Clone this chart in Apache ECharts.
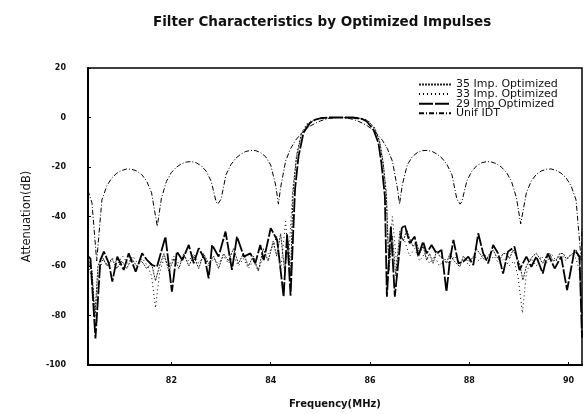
<!DOCTYPE html>
<html>
<head>
<meta charset="utf-8">
<script src="https://cdn.jsdelivr.net/npm/echarts@6/dist/echarts.min.js"></script>
<style>html,body{margin:0;padding:0;background:#fff}#c{width:585px;height:414px}</style>
</head>
<body>
<div id="c"></div>
<script>
var titleText = "Filter Characteristics by Optimized Impulses";
var xTicks = [82, 84, 86, 88, 90];
var yTicks = [20, 0, -20, -40, -60, -80, -100];
var seriesNames = ["35 Imp. Optimized", "33 Imp. Optimized", "29 Imp Optimized", "Unif IDT"];

var unifFreq = [80.32, 80.4, 80.495, 80.6, 80.7, 80.8, 80.9, 81.0, 81.1, 81.2, 81.3, 81.4, 81.5, 81.6, 81.715, 81.8, 81.9, 82.0, 82.1, 82.2, 82.3, 82.4, 82.5, 82.6, 82.7, 82.8, 82.9, 82.935, 83.0, 83.1, 83.2, 83.3, 83.4, 83.5, 83.6, 83.7, 83.8, 83.9, 84.0, 84.1, 84.155, 84.2, 84.3, 84.4, 84.5, 84.6, 84.7, 84.8, 84.9, 85.0, 85.1, 85.2, 85.3, 85.375, 85.45, 85.55, 85.65, 85.75, 85.85, 85.95, 86.05, 86.15, 86.25, 86.35, 86.45, 86.55, 86.595, 86.65, 86.75, 86.85, 86.95, 87.05, 87.15, 87.25, 87.35, 87.45, 87.55, 87.65, 87.75, 87.815, 87.85, 87.95, 88.05, 88.15, 88.25, 88.35, 88.45, 88.55, 88.65, 88.75, 88.85, 88.95, 89.035, 89.15, 89.25, 89.35, 89.45, 89.55, 89.65, 89.75, 89.85, 89.95, 90.05, 90.15, 90.255, 90.27];
var unifDb = [-29.5, -34.5, -58, -33.3, -27.6, -24.4, -22.5, -21.4, -20.8, -20.9, -21.6, -23.0, -25.6, -30.4, -44, -32.5, -25.8, -22.2, -20.1, -18.7, -18.0, -17.8, -18.3, -19.5, -21.7, -25.7, -34, -35, -33, -23.1, -19.0, -16.4, -14.8, -13.7, -13.3, -13.4, -14.2, -15.9, -19.2, -27.3, -35, -28.3, -17.6, -12.6, -9.2, -6.8, -4.9, -3.4, -2.3, -1.4, -0.7, -0.3, -0.05, 0, -0.05, -0.3, -0.7, -1.4, -2.3, -3.4, -4.9, -6.8, -9.2, -12.6, -17.6, -28.3, -35, -27.3, -19.2, -15.9, -14.2, -13.4, -13.3, -13.7, -14.8, -16.4, -19.0, -23.1, -33, -35, -34, -25.7, -21.7, -19.5, -18.3, -17.8, -18.0, -18.7, -20.1, -22.2, -25.8, -32.5, -43, -30.4, -25.6, -23.0, -21.6, -20.9, -20.8, -21.4, -22.5, -24.4, -27.6, -33.3, -58, -45];

var imp29Freq = [80.32, 80.37, 80.47, 80.57, 80.64, 80.74, 80.81, 80.91, 81.04, 81.14, 81.28, 81.41, 81.51, 81.61, 81.71, 81.88, 82.01, 82.11, 82.22, 82.35, 82.45, 82.55, 82.68, 82.75, 82.82, 82.95, 83.09, 83.22, 83.32, 83.46, 83.59, 83.69, 83.79, 83.86, 84.0, 84.13, 84.26, 84.33, 84.4, 84.49, 84.56, 84.66, 84.79, 84.9, 85.0, 85.15, 85.4, 85.65, 85.75, 85.85, 85.93, 86.07, 86.17, 86.23, 86.3, 86.34, 86.42, 86.5, 86.64, 86.7, 86.8, 86.9, 86.97, 87.07, 87.14, 87.24, 87.34, 87.44, 87.54, 87.61, 87.68, 87.78, 87.88, 87.98, 88.08, 88.18, 88.28, 88.38, 88.48, 88.58, 88.68, 88.78, 88.91, 89.01, 89.15, 89.25, 89.35, 89.48, 89.58, 89.72, 89.85, 89.97, 90.12, 90.22, 90.27];
var imp29Db = [-56, -57, -89.3, -57.6, -54.2, -58.9, -66.3, -56.2, -61.6, -54.9, -62.3, -54.9, -57.6, -59.6, -60.3, -48.1, -70.4, -54.2, -57.6, -51.5, -58.9, -52.8, -57.6, -65.0, -51.5, -56.2, -46.1, -61.6, -48.1, -56.2, -54.9, -58.9, -51.5, -57.6, -44.7, -49.5, -72.4, -47, -72, -29, -15.7, -6.2, -2.2, -0.9, -0.3, 0, 0, 0, -0.3, -0.7, -1.5, -4.9, -10.3, -18.4, -31.9, -72.4, -44, -72.4, -44.7, -43.4, -50.8, -48.1, -56.2, -50.1, -54.9, -51.5, -54.9, -53.5, -70.4, -57.6, -49.5, -58.9, -58.2, -56.2, -59.6, -46.8, -54.9, -58.9, -51.5, -54.9, -63, -54.2, -52.2, -61.6, -56.2, -60.3, -56.2, -63, -54.9, -61, -56.2, -69.7, -53.5, -56.2, -89];

var imp35Freq = [80.32, 80.4, 80.46, 80.52, 80.6, 80.7, 80.8, 80.9, 81.0, 81.1, 81.2, 81.3, 81.4, 81.5, 81.6, 81.68, 81.76, 81.85, 81.95, 82.05, 82.15, 82.25, 82.35, 82.45, 82.55, 82.65, 82.75, 82.85, 82.95, 83.05, 83.15, 83.25, 83.35, 83.45, 83.55, 83.65, 83.75, 83.85, 83.95, 84.05, 84.12, 84.2, 84.28, 84.35, 84.4, 84.45, 84.52, 84.62, 84.75, 84.9, 85.05, 85.4, 85.8, 85.95, 86.1, 86.2, 86.27, 86.33, 86.38, 86.45, 86.52, 86.6, 86.67, 86.74, 86.8, 86.87, 86.93, 87.0, 87.07, 87.14, 87.2, 87.27, 87.34, 87.41, 87.48, 87.54, 87.61, 87.68, 87.74, 87.81, 87.88, 87.94, 88.01, 88.08, 88.14, 88.21, 88.28, 88.34, 88.41, 88.48, 88.54, 88.61, 88.68, 88.75, 88.81, 88.88, 88.95, 89.01, 89.08, 89.15, 89.22, 89.28, 89.35, 89.42, 89.48, 89.55, 89.62, 89.68, 89.75, 89.82, 89.89, 89.95, 90.02, 90.08, 90.15, 90.22, 90.27];
var imp35Db = [-57, -62, -80, -60, -56, -60, -57, -61, -58, -61, -57, -60, -58, -61, -59, -66, -60, -55, -62, -57, -61, -55, -60, -56, -61, -55, -59, -56, -61, -55, -58, -53, -59, -55, -60, -56, -62, -53, -58, -50, -56, -47, -62, -50, -64, -30, -16, -6.5, -2.5, -0.8, -0.2, 0, -0.3, -1.2, -4.5, -10, -19, -32, -62, -48, -64, -46, -50, -45.4, -49, -52.2, -50, -54.9, -52, -57.6, -55, -58.9, -54, -56.2, -57, -58.9, -55, -57.6, -59, -60.3, -56, -57.6, -58, -56.2, -53, -54.9, -57, -57.6, -55, -53.5, -56, -57.6, -55, -54.9, -57, -53.5, -56, -58.9, -65.7, -60, -57.6, -56, -54.9, -57, -58.9, -56, -54.9, -58, -57.6, -55, -54.9, -57, -56.2, -55, -53.5, -57.6, -80];

var imp33Freq = [80.32, 80.4, 80.46, 80.53, 80.62, 80.72, 80.82, 80.92, 81.02, 81.12, 81.22, 81.32, 81.42, 81.52, 81.6, 81.68, 81.76, 81.85, 81.95, 82.05, 82.15, 82.25, 82.35, 82.45, 82.55, 82.65, 82.75, 82.85, 82.95, 83.05, 83.15, 83.25, 83.35, 83.45, 83.55, 83.65, 83.75, 83.85, 83.95, 84.05, 84.12, 84.2, 84.3, 84.36, 84.44, 84.52, 84.62, 84.75, 84.9, 85.05, 85.4, 85.8, 85.95, 86.08, 86.18, 86.26, 86.33, 86.38, 86.45, 86.55, 86.62, 86.7, 86.8, 86.9, 87.0, 87.1, 87.2, 87.3, 87.4, 87.5, 87.6, 87.7, 87.8, 87.9, 88.0, 88.1, 88.2, 88.3, 88.4, 88.5, 88.6, 88.7, 88.8, 88.9, 88.98, 89.07, 89.15, 89.25, 89.35, 89.45, 89.55, 89.65, 89.75, 89.85, 89.95, 90.05, 90.15, 90.22, 90.27];
var imp33Db = [-58, -66, -82, -64, -57, -60, -57, -59, -56, -59, -56, -59, -57, -60, -64, -77, -63, -57, -60, -56, -59, -56, -58, -55, -59, -56, -60, -57, -59, -56, -59, -56, -60, -57, -61, -58, -62, -56, -55, -52, -48, -62, -42, -58, -30, -15, -6, -2, -0.6, -0.1, 0, -0.2, -1.0, -3.8, -9, -18, -30, -58, -40, -62, -48, -50, -56, -53, -58, -55, -59, -56, -60, -57, -59, -56, -59, -57, -60, -56, -58, -55, -58, -56, -59, -57, -60, -58, -64, -79, -63, -57, -60, -56, -59, -55, -58, -55, -58, -55, -57, -62, -80];

function pairs(xs, ys) {
  var n = Math.min(xs.length, ys.length), out = [];
  for (var i = 0; i < n; i++) out.push([xs[i], ys[i]]);
  return out;
}

var font = "'DejaVu Sans', 'Liberation Sans', sans-serif";
var chart = echarts.init(document.getElementById('c'), null, {renderer: 'canvas'});
chart.setOption({
  backgroundColor: '#fff',
  animation: false,
  title: {
    text: titleText, left: 148, top: 10,
    textStyle: {fontFamily: font, fontSize: 13.5, fontWeight: 'bold', color: '#111'}
  },
  legend: {
    data: seriesNames, orient: 'vertical', left: 413, top: 74,
    itemWidth: 32, itemHeight: 8, itemGap: -1.4,
    itemStyle: {opacity: 0},
    textStyle: {fontFamily: font, fontSize: 11, color: '#111'}
  },
  grid: {left: 88, right: 3, top: 68, bottom: 49, show: true, borderColor: '#000', borderWidth: 1.5, backgroundColor: 'transparent'},
  xAxis: {
    type: 'value', min: 80.32, max: 90.27,
    name: 'Frequency(MHz)', nameLocation: 'middle', nameGap: 34,
    nameTextStyle: {fontFamily: font, fontSize: 10, fontWeight: 'bold', color: '#111'},
    axisLine: {onZero: false, lineStyle: {color: '#000', width: 2}},
    axisTick: {inside: true, length: 3, customValues: xTicks, lineStyle: {color: '#000'}},
    axisLabel: {customValues: xTicks, margin: 12, fontFamily: font, fontSize: 8, fontWeight: 'bold', color: '#111'},
    splitLine: {show: false}
  },
  yAxis: {
    type: 'value', min: -100, max: 20, interval: 20,
    name: 'Attenuation(dB)', nameLocation: 'middle', nameGap: 55,
    nameTextStyle: {fontFamily: font, fontSize: 11.5, color: '#111'},
    axisLine: {show: true, onZero: false, lineStyle: {color: '#000', width: 2}},
    axisTick: {show: true, inside: true, length: 3, lineStyle: {color: '#000'}},
    axisLabel: {margin: 22, fontFamily: font, fontSize: 8, fontWeight: 'bold', color: '#111'},
    splitLine: {show: false}
  },
  series: [
    {name: seriesNames[3], type: 'line', symbol: 'none', data: pairs(unifFreq, unifDb),
     lineStyle: {color: '#000', width: 1, type: [5, 2, 1, 2]}, itemStyle: {color: '#000'}},
    {name: seriesNames[0], type: 'line', symbol: 'none', data: pairs(imp35Freq, imp35Db),
     lineStyle: {color: '#222', width: 1, type: [2, 1]}, itemStyle: {color: '#222'}},
    {name: seriesNames[1], type: 'line', symbol: 'none', data: pairs(imp33Freq, imp33Db),
     lineStyle: {color: '#000', width: 1, type: [1, 3]}, itemStyle: {color: '#000'}},
    {name: seriesNames[2], type: 'line', symbol: 'none', data: pairs(imp29Freq, imp29Db),
     lineStyle: {color: '#000', width: 1.8, type: [14, 2]}, itemStyle: {color: '#000'}}
  ]
});
</script>
</body>
</html>
